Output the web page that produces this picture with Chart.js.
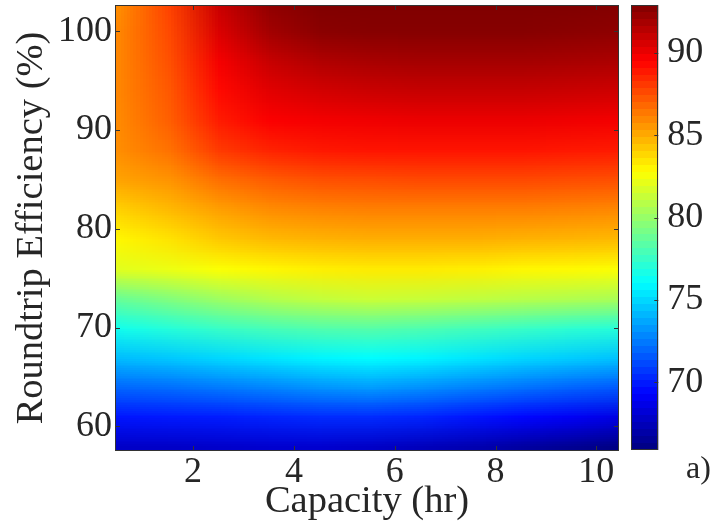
<!DOCTYPE html>
<html>
<head>
<meta charset="utf-8">
<script src="https://cdn.jsdelivr.net/npm/chart.js@4.4.1/dist/chart.umd.min.js"></script>
<style>
  html, body { margin: 0; padding: 0; background: #fff; }
  #wrap { position: relative; width: 717px; height: 529px; }
  #main { position: absolute; left: 0; top: 0; }
  #cbar { position: absolute; left: 600px; top: 0; }
</style>
</head>
<body>
<div id="wrap">
  <canvas id="main" width="717" height="529"></canvas>
  <canvas id="cbar" width="117" height="529"></canvas>
</div>
<script>
// capacity (hr) at grid columns, efficiency (%) at grid rows (top to bottom)
const capacity = [0.5, 1.5, 2.5, 3.5, 4.5, 5.5, 6.5, 7.5, 8.5, 9.5, 10.5];
const efficiency = [103, 100, 97, 94, 91, 88, 85, 82, 79, 76, 73, 70, 67, 64, 61, 58];

// one row per efficiency value, one entry per capacity value
const row103 = [85.8, 87.8, 91.0, 92.5, 92.9, 92.9, 92.9, 92.9, 92.9, 92.9, 92.8];
const row100 = [86.0, 87.6, 90.5, 92.0, 92.6, 92.7, 92.7, 92.7, 92.7, 92.6, 92.5];
const row97  = [86.0, 87.4, 89.8, 91.0, 91.6, 91.8, 91.9, 91.9, 91.9, 91.8, 91.7];
const row94  = [86.0, 87.2, 89.3, 90.3, 90.7, 90.9, 91.0, 91.0, 91.0, 90.9, 90.8];
const row91  = [85.9, 87.0, 88.8, 89.6, 89.8, 89.9, 90.0, 90.0, 90.0, 89.9, 89.8];
const row88  = [85.8, 86.5, 88.0, 88.6, 88.9, 89.0, 89.0, 89.0, 89.0, 88.9, 88.8];
const row85  = [85.2, 85.6, 86.6, 87.1, 87.4, 87.5, 87.6, 87.6, 87.6, 87.5, 87.4];
const row82  = [84.0, 84.6, 85.3, 85.8, 86.0, 86.1, 86.1, 86.1, 86.1, 86.0, 85.9];
const row79  = [83.0, 83.5, 84.2, 84.6, 84.8, 84.9, 84.9, 84.9, 84.8, 84.7, 84.6];
const row76  = [82.0, 82.3, 82.7, 83.0, 83.2, 83.3, 83.3, 83.2, 83.0, 82.9, 82.7];
const row73  = [78.8, 79.5, 80.2, 80.8, 81.2, 81.4, 81.3, 81.1, 80.9, 80.7, 80.5];
const row70  = [76.5, 77.0, 77.5, 77.9, 78.2, 78.3, 78.1, 77.8, 77.5, 77.2, 77.0];
const row67  = [74.3, 74.6, 75.0, 75.4, 75.8, 76.0, 75.8, 75.4, 75.0, 74.7, 74.4];
const row64  = [72.0, 72.2, 72.5, 72.8, 73.2, 73.4, 73.1, 72.7, 72.3, 71.9, 71.6];
const row61  = [69.8, 69.9, 70.0, 70.2, 70.4, 70.4, 70.2, 69.8, 69.4, 69.0, 68.5];
const row58  = [67.8, 67.8, 67.9, 68.0, 68.0, 67.8, 67.5, 67.2, 66.8, 66.4, 66.0];
const rteGrid = [row103, row100, row97, row94, row91, row88, row85, row82,
                 row79, row76, row73, row70, row67, row64, row61, row58];

const xTicks = [2, 4, 6, 8, 10];
const yTicks = [60, 70, 80, 90, 100];
const cbarTicks = [70, 75, 80, 85, 90];
const cMin = 65.9, cMax = 92.9;

const FONT = '"Liberation Serif", "Times New Roman", serif';
const INK = '#262626';

// matlab style jet colormap
const jet = (v) => {
    let t = (v - cMin) / (cMax - cMin);
    t = Math.max(0, Math.min(1, t));
    const c = (x) => Math.round(255 * Math.max(0, Math.min(1, x)));
    return [c(1.5 - Math.abs(4 * t - 3)), c(1.5 - Math.abs(4 * t - 2)), c(1.5 - Math.abs(4 * t - 1))];
};

// small image of the grid, with a 1px copied border so smoothing does not fade at the edges
const buildGridImage = () => {
    const nx = capacity.length, ny = efficiency.length;
    const off = document.createElement('canvas');
    off.width = nx + 2;
    off.height = ny + 2;
    const octx = off.getContext('2d');
    const img = octx.createImageData(nx + 2, ny + 2);
    for (let j = 0; j < ny + 2; j++) {
        for (let i = 0; i < nx + 2; i++) {
            const jj = Math.min(ny - 1, Math.max(0, j - 1));
            const ii = Math.min(nx - 1, Math.max(0, i - 1));
            const [r, g, b] = jet(rteGrid[jj][ii]);
            const k = (j * (nx + 2) + i) * 4;
            img.data[k] = r; img.data[k + 1] = g; img.data[k + 2] = b; img.data[k + 3] = 255;
        }
    }
    octx.putImageData(img, 0, 0);
    return off;
};

const gridImage = buildGridImage();

const setTicks = (values) => (scale) => {
    scale.ticks = values.map(v => ({ value: v }));
};

// stop the label overhang from pushing the plot box around
const noPad = (scale) => {
    scale.paddingTop = 0;
    scale.paddingBottom = 0;
    scale.paddingLeft = 0;
    scale.paddingRight = 0;
};

// heatmap + box + inner tick marks
const heatPlugin = {
    id: 'heat',
    beforeDatasetsDraw(chart) {
        const { ctx, chartArea: a, scales: { x, y } } = chart;
        const dx = capacity[1] - capacity[0];
        const dy = efficiency[0] - efficiency[1];
        // image covers one extra cell on every side
        const left = x.getPixelForValue(capacity[0] - 1.5 * dx);
        const right = x.getPixelForValue(capacity[capacity.length - 1] + 1.5 * dx);
        const top = y.getPixelForValue(efficiency[0] + 1.5 * dy);
        const bottom = y.getPixelForValue(efficiency[efficiency.length - 1] - 1.5 * dy);
        ctx.save();
        ctx.beginPath();
        ctx.rect(a.left, a.top, a.right - a.left, a.bottom - a.top);
        ctx.clip();
        ctx.imageSmoothingEnabled = true;
        ctx.drawImage(gridImage, left, top, right - left, bottom - top);
        ctx.restore();
    },
    afterDraw(chart) {
        const { ctx, chartArea: a, scales: { x, y } } = chart;
        ctx.save();
        ctx.strokeStyle = '#333';
        ctx.lineWidth = 1;
        ctx.strokeRect(Math.round(a.left) + 0.5, Math.round(a.top) + 0.5,
            Math.round(a.right - a.left) - 1, Math.round(a.bottom - a.top) - 1);
        ctx.beginPath();
        const len = 5;
        xTicks.forEach(v => {
            const px = Math.round(x.getPixelForValue(v)) + 0.5;
            ctx.moveTo(px, a.bottom); ctx.lineTo(px, a.bottom - len);
            ctx.moveTo(px, a.top); ctx.lineTo(px, a.top + len);
        });
        yTicks.forEach(v => {
            const py = Math.round(y.getPixelForValue(v)) + 0.5;
            ctx.moveTo(a.left, py); ctx.lineTo(a.left + len, py);
            ctx.moveTo(a.right, py); ctx.lineTo(a.right - len, py);
        });
        ctx.stroke();
        ctx.restore();
    }
};

new Chart(document.getElementById('main'), {
    type: 'scatter',
    data: { datasets: [] },
    options: {
        responsive: false,
        animation: false,
        layout: { padding: { top: 5, right: 98, left: 0, bottom: 0 } },
        plugins: { legend: { display: false }, tooltip: { enabled: false } },
        scales: {
            x: {
                type: 'linear',
                min: 0.45,
                max: 10.45,
                afterBuildTicks: setTicks(xTicks),
                afterFit: (s) => { s.height = 78; noPad(s); },
                grid: { display: false, drawTicks: false },
                border: { display: false },
                ticks: { color: INK, font: { family: FONT, size: 36 }, padding: 0 },
                title: {
                    display: true,
                    text: 'Capacity (hr)',
                    color: INK,
                    font: { family: FONT, size: 38.5 },
                    padding: { top: 0, bottom: 4 }
                }
            },
            y: {
                type: 'linear',
                min: 57.5,
                max: 102.65,
                afterBuildTicks: setTicks(yTicks),
                afterFit: (s) => { s.width = 115; noPad(s); },
                grid: { display: false, drawTicks: false },
                border: { display: false },
                ticks: { color: INK, font: { family: FONT, size: 36 }, padding: 3 },
                title: {
                    display: true,
                    text: 'Roundtrip Efficiency (%)',
                    color: INK,
                    font: { family: FONT, size: 38.5 },
                    padding: { top: 9, bottom: 0 }
                }
            }
        }
    },
    plugins: [heatPlugin]
});

// colorbar
const cbarPlugin = {
    id: 'cbar',
    beforeDatasetsDraw(chart) {
        const { ctx, chartArea: a, scales: { y } } = chart;
        const y0 = y.getPixelForValue(cMin);
        const y1 = y.getPixelForValue(cMax);
        const grad = ctx.createLinearGradient(0, y0, 0, y1);
        const n = 64;
        for (let i = 0; i < n; i++) {
            const v = cMin + (cMax - cMin) * (i + 0.5) / n;
            const [r, g, b] = jet(v);
            grad.addColorStop(i / n, `rgb(${r},${g},${b})`);
            grad.addColorStop((i + 1) / n, `rgb(${r},${g},${b})`);
        }
        ctx.save();
        ctx.fillStyle = grad;
        ctx.fillRect(a.left, y1, a.right - a.left, y0 - y1);
        ctx.restore();
    },
    afterDraw(chart) {
        const { ctx, chartArea: a, scales: { y } } = chart;
        ctx.save();
        ctx.strokeStyle = '#333';
        ctx.lineWidth = 1;
        ctx.strokeRect(Math.round(a.left) + 0.5, Math.round(a.top) + 0.5,
            Math.round(a.right - a.left) - 1, Math.round(a.bottom - a.top) - 1);
        ctx.beginPath();
        cbarTicks.forEach(v => {
            const py = Math.round(y.getPixelForValue(v)) + 0.5;
            ctx.moveTo(a.right, py); ctx.lineTo(a.right - 4, py);
        });
        ctx.stroke();
        // panel label
        ctx.fillStyle = INK;
        ctx.font = `32px ${FONT}`;
        ctx.textAlign = 'left';
        ctx.textBaseline = 'middle';
        ctx.fillText('a)', 86, 470);
        ctx.restore();
    }
};

new Chart(document.getElementById('cbar'), {
    type: 'scatter',
    data: { datasets: [] },
    options: {
        responsive: false,
        animation: false,
        layout: { padding: { top: 5, left: 31, bottom: 79, right: 0 } },
        plugins: { legend: { display: false }, tooltip: { enabled: false } },
        scales: {
            x: { display: false, min: 0, max: 1 },
            y: {
                position: 'right',
                type: 'linear',
                min: cMin,
                max: cMax,
                afterBuildTicks: setTicks(cbarTicks),
                afterFit: (s) => { s.width = 58.7; noPad(s); },
                grid: { display: false, drawTicks: false },
                border: { display: false },
                ticks: { color: INK, font: { family: FONT, size: 36 }, padding: 9 }
            }
        }
    },
    plugins: [cbarPlugin]
});
</script>
</body>
</html>
